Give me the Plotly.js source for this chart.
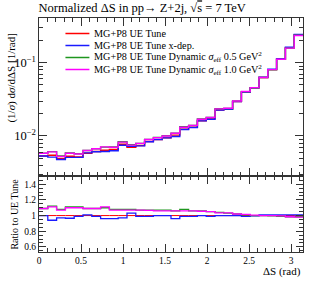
<!DOCTYPE html>
<html>
<head>
<meta charset="utf-8">
<script src="https://cdn.plot.ly/plotly-3.0.1.min.js"></script>
<style>html,body{margin:0;padding:0;background:#fff}#plot{width:313px;height:282px}</style>
</head>
<body>
<div id="plot"></div>
<script>
// ---- data ----
const nBins = 30;
const xMax = Math.PI;
const seriesNames = [
  "MG+P8 UE Tune",
  "MG+P8 UE Tune x-dep.",
  "MG+P8 UE Tune Dynamic <i>σ</i><sub>eff</sub> 0.5 GeV<sup>2</sup>",
  "MG+P8 UE Tune Dynamic <i>σ</i><sub>eff</sub> 1.0 GeV<sup>2</sup>"
];
const seriesColors = ["#ff0000", "#1a1aff", "#1e961e", "#ff00ff"];
// reference series: (1/sigma) dsigma/dDeltaS per bin
const ueTune = [0.00533,0.00547,0.00493,0.00528,0.00516,0.00582,0.00615,0.00640,0.00655,0.00771,
                0.00702,0.00741,0.00841,0.00893,0.00942,0.01026,0.01239,0.01318,0.01607,0.01710,
                0.02265,0.02307,0.02944,0.0398,0.0455,0.0628,0.0805,0.1122,0.1607,0.2404];
// ratios to UE Tune
const ratioXdep = [1.00,0.94,0.97,0.966,0.99,1.01,0.99,0.96,0.96,0.97,
                   1.03,0.99,0.99,1.00,1.00,0.96,0.99,0.99,1.00,0.99,
                   1.00,1.00,1.00,0.99,0.995,1.01,1.01,1.01,1.01,1.01];
const ratioDyn05 = [1.09,1.12,1.08,1.11,1.11,1.09,1.09,1.10,1.08,1.08,
                    1.08,1.07,1.07,1.07,1.07,1.06,1.08,1.06,1.06,1.05,
                    1.04,1.03,1.02,1.01,1.00,1.00,0.995,0.99,0.985,0.985];
const ratioDyn10 = [1.09,1.11,1.07,1.10,1.10,1.09,1.09,1.11,1.07,1.07,
                    1.07,1.07,1.065,1.06,1.06,1.06,1.06,1.06,1.055,1.05,
                    1.035,1.035,1.02,1.015,1.005,1.00,1.00,0.995,0.985,0.98];
const xTickVals = [0,0.5,1,1.5,2,2.5,3];
const xTickText = ["0","0.5","1","1.5","2","2.5","3"];
const rTickVals = [0.6,0.8,1,1.2,1.4];
const rTickText = ["0.6","0.8","1","1.2","1.4"];

// ---- build ----
const binW = xMax / nBins;
const edges = Array.from({length: nBins + 1}, (_, k) => k * binW);
const ratios = [ueTune.map(() => 1), ratioXdep, ratioDyn05, ratioDyn10];
const mains = ratios.map(r => ueTune.map((v, i) => v * r[i]));
const step = v => v.concat([v[v.length - 1]]);

const traces = [];
mains.forEach((vals, s) => {
  traces.push({x: edges, y: step(vals), xaxis: 'x2', yaxis: 'y', mode: 'lines',
    line: {shape: 'hv', color: seriesColors[s], width: 1.4}, showlegend: false, hoverinfo: 'skip'});
});
ratios.forEach((vals, s) => {
  traces.push({x: edges, y: step(vals), xaxis: 'x', yaxis: 'y2', mode: 'lines',
    line: {shape: 'hv', color: seriesColors[s], width: s === 0 ? 1 : 1.3}, showlegend: false, hoverinfo: 'skip'});
});

const serif = "Liberation Serif, DejaVu Serif, serif";
const frame = '#333';
const L = 38.5, R = 303, T = 18, B = 252, W = 313, H = 282;
const px2x = p => (p - L) / (R - L);
const py2y = p => (B - p) / (B - T);

const annotations = [
  {text: "(1/<i>σ</i>) d<i>σ</i>/dΔS [1/rad]", xref: 'paper', yref: 'paper', x: px2x(10), y: py2y(78),
   textangle: -90, showarrow: false, xanchor: 'center', yanchor: 'middle', font: {family: serif, size: 11, color: '#000'}},
  {text: "Ratio to UE Tune", xref: 'paper', yref: 'paper', x: px2x(13), y: py2y(214),
   textangle: -90, showarrow: false, xanchor: 'center', yanchor: 'middle', font: {family: serif, size: 10, color: '#000'}},
  {text: "ΔS (rad)", xref: 'paper', yref: 'paper', x: 1, y: py2y(271), showarrow: false,
   xanchor: 'right', yanchor: 'middle', font: {family: serif, size: 11, color: '#000'}}
];
const shapes = [];
const legY = [33.5, 45.5, 57.5, 69.5];
seriesNames.forEach((n, s) => {
  shapes.push({type: 'line', xref: 'paper', yref: 'paper', x0: px2x(65), x1: px2x(89), y0: py2y(legY[s]), y1: py2y(legY[s]),
    line: {color: seriesColors[s], width: 1.5}});
  annotations.push({text: n, xref: 'paper', yref: 'paper', x: px2x(92), y: py2y(legY[s]), showarrow: false,
    xanchor: 'left', yanchor: 'middle', font: {family: serif, size: 10.2, color: '#000'}});
});

const ratioFrac = (B - 176) / (B - T);
const common = {showgrid: false, zeroline: false, showline: true, linecolor: frame, linewidth: 1, mirror: 'allticks',
  ticks: 'inside', tickcolor: frame, tickwidth: 1};
const layout = {
  width: W, height: H, margin: {l: L, r: W - R, t: T, b: H - B},
  paper_bgcolor: '#fff', plot_bgcolor: '#fff', showlegend: false,
  font: {family: serif, size: 9.5, color: '#000'},
  title: {text: "Normalized ΔS in pp→ Z+2j, √<span style='text-decoration:overline'>s</span> = 7 TeV", x: L / W, xanchor: 'left', xref: 'container',
    y: 1 - 8 / H, yanchor: 'middle', font: {family: serif, size: 12.5, color: '#000'}},
  xaxis: Object.assign({}, common, {anchor: 'y2', domain: [0, 1], range: [0, xMax], tickvals: xTickVals, ticktext: xTickText,
    ticklen: 8, minor: {dtick: 0.1, tick0: 0, ticklen: 4, ticks: 'inside', tickcolor: frame}, tickfont: {family: serif, size: 9.5}}),
  xaxis2: Object.assign({}, common, {anchor: 'y', matches: 'x', domain: [0, 1], range: [0, xMax], tickvals: xTickVals,
    showticklabels: false, ticklen: 8, minor: {dtick: 0.1, tick0: 0, ticklen: 4, ticks: 'inside', tickcolor: frame}}),
  yaxis: Object.assign({}, common, {anchor: 'x2', domain: [ratioFrac, 1], type: 'log', range: [-2.546, -0.39],
    dtick: 1, exponentformat: 'power', ticklen: 8, minor: {dtick: 'D1', ticklen: 4, ticks: 'inside', tickcolor: frame},
    tickfont: {family: serif, size: 10}}),
  yaxis2: Object.assign({}, common, {anchor: 'x', domain: [0, ratioFrac], range: [0.535, 1.505], tickvals: rTickVals, ticktext: rTickText,
    ticklen: 7, minor: {dtick: 0.05, tick0: 0, ticklen: 4, ticks: 'inside', tickcolor: frame}, tickfont: {family: serif, size: 9.5}}),
  annotations: annotations, shapes: shapes
};
Plotly.newPlot('plot', traces, layout, {staticPlot: true, displayModeBar: false});
</script>
</body>
</html>
